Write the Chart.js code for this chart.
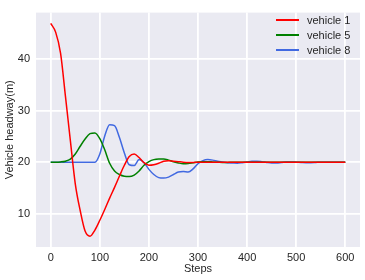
<!DOCTYPE html>
<html>
<head>
<meta charset="utf-8">
<script src="https://cdn.jsdelivr.net/npm/chart.js@4/dist/chart.umd.min.js"></script>
<style>
  html, body { margin: 0; padding: 0; background: #fff; }
  #wrap { position: relative; width: 365px; height: 280px; }
  #legend {
    position: absolute; left: 276px; top: 12px;
    font: 11px "Liberation Sans", Arial, sans-serif; color: #262626;
  }
  .row { display: flex; align-items: center; height: 15px; }
  .swatch { display: block; width: 23px; height: 2px; margin-right: 8px; }
</style>
</head>
<body>
<div id="wrap">
  <canvas id="c" width="365" height="280"></canvas>
  <div id="legend"></div>
</div>
<script>
// simulation steps (x axis)
const steps = [0, 10, 20, 30, 40, 50, 60, 70, 80, 90,
  100, 110, 120, 130, 140, 150, 160, 170, 180, 190,
  200, 210, 220, 230, 240, 250, 260, 270, 280, 290,
  300, 310, 320, 330, 340, 350, 360, 370, 380, 390,
  400, 410, 420, 430, 440, 450, 460, 470, 480, 490,
  500, 510, 520, 530, 540, 550, 560, 570, 580, 590, 600];

// headway (m)
const vehicle1 = [47.0, 45.3, 41.2, 32.8, 24.2, 15.8, 10.6, 6.6, 5.6, 6.8,
  8.7, 10.8, 13.0, 15.1, 17.3, 19.4, 21.1, 21.6, 20.9, 19.9,
  19.4, 19.5, 19.8, 20.2, 20.3, 20.2, 20.1, 20.0, 19.95, 19.95,
  20.0, 20.0, 20.0, 20.0, 20.0, 20.0, 20.0, 20.0, 20.0, 20.0,
  20.0, 20.0, 20.0, 20.0, 20.0, 20.0, 20.0, 20.0, 20.0, 20.0,
  20.0, 20.0, 20.0, 20.0, 20.0, 20.0, 20.0, 20.0, 20.0, 20.0, 20.0];

const vehicle5 = [20.0, 20.0, 20.05, 20.2, 20.6, 21.6, 23.1, 24.5, 25.55, 25.7,
  24.6, 22.4, 19.8, 18.3, 17.6, 17.25, 17.2, 17.5, 18.3, 19.4,
  20.1, 20.5, 20.6, 20.6, 20.4, 20.1, 19.85, 19.7, 19.75, 19.9,
  20.05, 20.1, 20.1, 20.05, 20.0, 19.95, 19.95, 20.0, 20.0, 20.0,
  20.0, 20.0, 20.0, 20.0, 20.0, 20.0, 20.0, 20.0, 20.0, 20.0,
  20.0, 20.0, 20.0, 20.0, 20.0, 20.0, 20.0, 20.0, 20.0, 20.0, 20.0];

const vehicle8 = [20.0, 20.0, 20.0, 20.0, 20.0, 20.0, 20.0, 20.0, 20.0, 20.0,
  21.6, 25.1, 27.3, 27.1, 24.8, 21.8, 19.5, 19.35, 20.5, 19.9,
  18.6, 17.6, 17.0, 16.9, 17.1, 17.6, 18.1, 18.2, 18.1, 18.7,
  19.7, 20.3, 20.5, 20.4, 20.2, 20.05, 19.9, 19.85, 19.8, 19.9,
  20.05, 20.2, 20.2, 20.1, 19.95, 19.85, 19.85, 19.95, 20.05, 20.05,
  20.0, 19.95, 19.9, 19.9, 19.95, 20.0, 20.0, 20.0, 20.0, 20.0, 20.0];

const seriesLabels = ["vehicle 1", "vehicle 5", "vehicle 8"];
const xTicks = [0, 100, 200, 300, 400, 500, 600];
const yTicks = [10, 20, 30, 40];

const FONT = { family: '"Liberation Sans", Arial, sans-serif', size: 11 };
const INK = "#262626";

function pts(vals) {
  return steps.map((s, i) => ({ x: s, y: vals[i] }));
}

const bgPlugin = {
  id: "bg",
  beforeDraw(chart) {
    const { ctx, chartArea: a } = chart;
    ctx.save();
    ctx.fillStyle = "#fff";
    ctx.fillRect(0, 0, chart.width, chart.height);
    ctx.fillStyle = "#EAEAF2";
    ctx.fillRect(a.left, a.top, a.right - a.left, a.bottom - a.top);
    ctx.restore();
  },
};

const colors = ["#FF0000", "#008000", "#4169E1"];
const chart = new Chart(document.getElementById("c"), {
  type: "line",
  data: {
    datasets: [vehicle1, vehicle5, vehicle8].map((v, i) => ({
      label: seriesLabels[i],
      data: pts(v),
      borderColor: colors[i],
      borderWidth: 1.5,
      pointRadius: 0,
      cubicInterpolationMode: "monotone",
      fill: false,
    })),
  },
  options: {
    responsive: false,
    animation: false,
    layout: { padding: { left: 0, top: 5, right: 5, bottom: 0 } },
    plugins: { legend: { display: false }, tooltip: { enabled: false } },
    scales: {
      x: {
        type: "linear",
        min: -30,
        max: 630,
        afterBuildTicks: (s) => { s.ticks = xTicks.map((v) => ({ value: v })); },
        afterFit: (s) => { s.height = 33; },
        grid: { color: "#fff", lineWidth: 1.8, drawTicks: false },
        border: { display: false },
        ticks: { color: INK, font: FONT, padding: 4, maxRotation: 0 },
        title: { display: true, text: "Steps", color: INK, font: FONT, padding: { top: 0, bottom: 4 } },
      },
      y: {
        min: 3.5,
        max: 49.1,
        afterBuildTicks: (s) => { s.ticks = yTicks.map((v) => ({ value: v })); },
        afterFit: (s) => { s.width = 36; },
        grid: { color: "#fff", lineWidth: 1.8, drawTicks: false },
        border: { display: false },
        ticks: { color: INK, font: FONT, padding: 6 },
        title: { display: true, text: "Vehicle headway(m)", color: INK, font: FONT, padding: { top: 3, bottom: 0 } },
      },
    },
  },
  plugins: [bgPlugin],
});

// legend inside the plot, upper right
const legend = document.getElementById("legend");
chart.data.datasets.forEach((d) => {
  const row = document.createElement("div");
  row.className = "row";
  const sw = document.createElement("span");
  sw.className = "swatch";
  sw.style.background = d.borderColor;
  const txt = document.createElement("span");
  txt.textContent = d.label;
  row.appendChild(sw);
  row.appendChild(txt);
  legend.appendChild(row);
});
</script>
</body>
</html>
